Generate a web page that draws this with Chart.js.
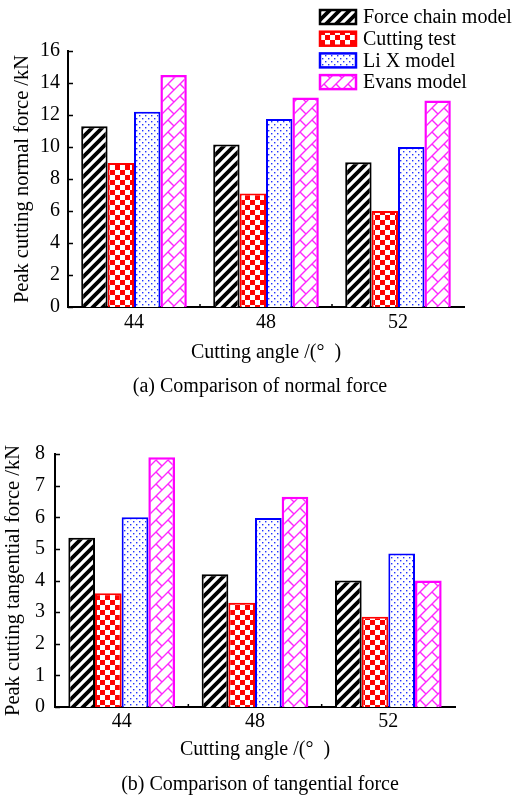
<!DOCTYPE html>
<html>
<head>
<meta charset="utf-8">
<script src="https://cdn.jsdelivr.net/npm/chart.js@4.4.1/dist/chart.umd.min.js"></script>
<style>
  html, body { margin: 0; padding: 0; background: #fff; }
  body { width: 526px; height: 799px; position: relative; overflow: hidden; }
  canvas { position: absolute; left: 0; }
  #chartNormal { top: 0; }
  #chartTang { top: 400px; }
  .caption {
    position: absolute; left: 0; width: 520px; text-align: center;
    font: 20px 'Liberation Serif', 'Times New Roman', serif; line-height: 24px; color: #000;
  }
</style>
</head>
<body>
<canvas id="chartNormal" width="526" height="400"></canvas>
<canvas id="chartTang" width="526" height="399"></canvas>
<div class="caption" style="top:373px">(a) Comparison of normal force</div>
<div class="caption" style="top:771px">(b) Comparison of tangential force</div>

<script>
// === DATA ===
const categories = ['44', '48', '52'];
const seriesNames = ['Force chain model', 'Cutting test', 'Li X model', 'Evans model'];

// (a) normal force, kN
const normalForceChain = [11.3, 10.15, 9.05];
const normalCuttingTest = [9.0, 7.1, 6.0];
const normalLiX = [12.2, 11.75, 10.0];
const normalEvans = [14.5, 13.1, 12.9];

// (b) tangential force, kN
const tangForceChain = [5.35, 4.2, 4.0];
const tangCuttingTest = [3.6, 3.3, 2.85];
const tangLiX = [6.0, 5.98, 4.85];
const tangEvans = [7.9, 6.65, 4.0];

const FONT = "'Liberation Serif', 'Times New Roman', serif";

// === PATTERNS ===
function tile(size, draw) {
  const c = document.createElement('canvas');
  c.width = size; c.height = size;
  const g = c.getContext('2d');
  g.fillStyle = '#fff';
  g.fillRect(0, 0, size, size);
  draw(g, size);
  return c.getContext('2d').createPattern(c, 'repeat');
}

const hatchBlack = tile(10, (g, s) => {
  g.strokeStyle = '#000';
  g.lineWidth = 3.8;
  g.beginPath();
  g.moveTo(-5, 5); g.lineTo(5, -5);
  g.moveTo(0, s); g.lineTo(s, 0);
  g.moveTo(5, 15); g.lineTo(15, 5);
  g.stroke();
});

const checkerRed = tile(10, (g) => {
  g.fillStyle = '#ff0000';
  g.fillRect(0, 0, 5, 5);
  g.fillRect(5, 5, 5, 5);
});

const dotsBlue = tile(6, (g) => {
  g.fillStyle = '#2233ff';
  g.fillRect(1, 1, 1.4, 1.4);
  g.fillRect(4, 4, 1.4, 1.4);
});

const zigzagMagenta = tile(12, (g, s) => {
  g.strokeStyle = 'rgba(255, 0, 255, 0.85)';
  g.lineWidth = 1.4;
  g.beginPath();
  g.moveTo(0, s); g.lineTo(s, 0);
  g.moveTo(-6, 6); g.lineTo(6, -6);
  g.moveTo(6, 18); g.lineTo(18, 6);
  g.moveTo(0, 0); g.lineTo(6, 6);
  g.stroke();
});

const fills = [hatchBlack, checkerRed, dotsBlue, zigzagMagenta];
const borders = ['#000000', '#ff0000', '#0000ff', '#ff00ff'];
const borderWidths = [2, 2, 2, 2.5];

// === PLUGINS: inward ticks + legend ===
const axisMarks = {
  id: 'axisMarks',
  afterDraw(chart) {
    const { ctx, chartArea } = chart;
    const y = chart.scales.y, x = chart.scales.x;
    ctx.save();
    ctx.strokeStyle = '#000';
    ctx.lineWidth = 1.5;
    ctx.beginPath();
    y.ticks.forEach(t => {
      const py = Math.round(y.getPixelForValue(t.value)) + 0.5;
      ctx.moveTo(chartArea.left, py);
      ctx.lineTo(chartArea.left + 5, py);
    });
    for (let i = 0; i < categories.length - 1; i++) {
      const px = (x.getPixelForValue(i) + x.getPixelForValue(i + 1)) / 2;
      ctx.moveTo(px, chartArea.bottom);
      ctx.lineTo(px, chartArea.bottom - 3);
    }
    ctx.stroke();
    ctx.restore();
  }
};

const patternLegend = {
  id: 'patternLegend',
  afterDraw(chart, args, opts) {
    const { ctx } = chart;
    ctx.save();
    ctx.font = '20px ' + FONT;
    ctx.textBaseline = 'middle';
    chart.data.datasets.forEach((ds, i) => {
      const cy = opts.y + i * opts.dy;
      ctx.fillStyle = ds.backgroundColor;
      ctx.fillRect(opts.x, cy - 7, 36, 14);
      ctx.strokeStyle = ds.borderColor;
      ctx.lineWidth = 2.5;
      ctx.strokeRect(opts.x, cy - 7, 36, 14);
      ctx.fillStyle = '#000';
      ctx.fillText(ds.label, opts.textX, cy + 1);
    });
    ctx.restore();
  }
};

// === CHART BUILDER ===
function buildChart(id, series, lay) {
  const datasets = series.map((values, i) => ({
    label: seriesNames[i],
    data: values,
    backgroundColor: fills[i],
    borderColor: borders[i],
    borderWidth: borderWidths[i],
    categoryPercentage: 0.8,
    barPercentage: 1.0
  }));

  return new Chart(document.getElementById(id), {
    type: 'bar',
    data: { labels: categories, datasets },
    options: {
      responsive: false,
      animation: false,
      devicePixelRatio: 1,
      layout: { padding: lay.padding },
      plugins: {
        legend: { display: false },
        tooltip: { enabled: false },
        patternLegend: lay.legend
      },
      scales: {
        x: {
          grid: { display: false, drawTicks: false },
          border: { display: true, color: '#000', width: 2 },
          ticks: { color: '#000', font: { family: FONT, size: 20 }, padding: lay.xTickPad },
          title: {
            display: true, text: 'Cutting angle /(°  )', color: '#000',
            font: { family: FONT, size: 20 }, padding: { top: 0, bottom: lay.xTitlePad }
          },
          afterFit(scale) { scale.height = lay.xHeight; }
        },
        y: {
          min: 0, max: lay.max,
          grid: { display: false, drawTicks: false },
          border: { display: true, color: '#000', width: 2 },
          ticks: { stepSize: lay.step, color: '#000', font: { family: FONT, size: 20 }, padding: lay.yTickPad },
          title: {
            display: true, text: lay.yTitle, color: '#000',
            font: { family: FONT, size: 20.5 }, padding: { top: lay.yTitlePad, bottom: 0 }
          },
          afterFit(scale) { scale.width = lay.yWidth; }
        }
      }
    },
    plugins: [axisMarks, patternLegend]
  });
}

// === RUN ===
buildChart('chartNormal',
  [normalForceChain, normalCuttingTest, normalLiX, normalEvans],
  {
    padding: { left: 0, top: 51, right: 62, bottom: 31 },
    yWidth: 68, xHeight: 62, max: 16, step: 2,
    yTitle: 'Peak cutting normal force /kN', yTitlePad: 10, yTickPad: 8,
    xTickPad: 4, xTitlePad: 4,
    legend: { x: 320, y: 17, dy: 21.7, textX: 363 }
  });

buildChart('chartTang',
  [tangForceChain, tangCuttingTest, tangLiX, tangEvans],
  {
    padding: { left: 0, top: 54, right: 71, bottom: 30 },
    yWidth: 55, xHeight: 62, max: 8, step: 1,
    yTitle: 'Peak cutting tangential force /kN', yTitlePad: 1, yTickPad: 10,
    xTickPad: 3, xTitlePad: 7,
    legend: { x: 334, y: 466, dy: 21.7, textX: 377 }
  });
</script>
</body>
</html>
